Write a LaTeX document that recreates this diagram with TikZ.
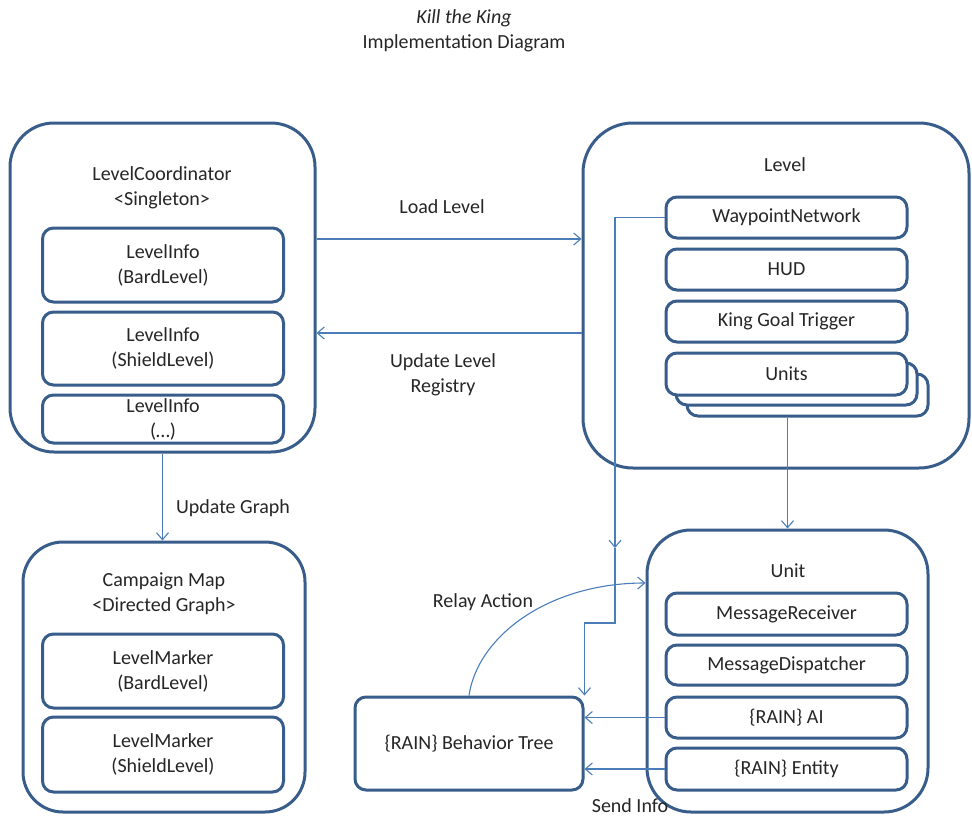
\documentclass[tikz,border=0pt]{standalone}
\usepackage{fontspec}
\setmainfont{Carlito}
\usetikzlibrary{arrows.meta}
\definecolor{boxblue}{HTML}{385D8A}
\definecolor{linkblue}{HTML}{4A7EBB}

\begin{document}
\begin{tikzpicture}[x=1pt, y=-1pt, font=\fontsize{20}{25}\selectfont,
	outer/.style={draw=boxblue, line width=3pt, fill=white, rounded corners=44pt, inner sep=0pt},
	inbox/.style={draw=boxblue, line width=3pt, fill=white, rounded corners=11pt, minimum width=241pt, minimum height=#1, inner sep=0pt, align=center, text=black!85},
	tag/.style={align=center, text=black!85, inner sep=0pt},
	link/.style={draw=linkblue, line width=1.1pt, -{Straight Barb[length=7pt,width=12pt]}}]
		\useasboundingbox (0,0) rectangle (972,817);
		
		% title
		\node [tag] (title) at (464,31) {\textit{Kill the King}\\Implementation Diagram};
		
		% level coordinator
		\node [outer, minimum width=305pt, minimum height=329pt] (lc) at (162.5,287.5) {};
		\node [tag] (lcname) at (162,188) {LevelCoordinator\\<Singleton>};
		\node [inbox=74pt] (li1) at (163,265) {LevelInfo\\(BardLevel)};
		\node [inbox=73pt] (li2) at (163,348.5) {LevelInfo\\(ShieldLevel)};
		\node [inbox=48pt] (li3) at (163,419) {LevelInfo\\(…)};
		
		% campaign map
		\node [outer, minimum width=282pt, minimum height=270pt, rounded corners=40pt] (cm) at (164,677) {};
		\node [tag] (cmname) at (164,594) {Campaign Map\\<Directed Graph>};
		\node [inbox=74pt] (lm1) at (163,671) {LevelMarker\\(BardLevel)};
		\node [inbox=75pt] (lm2) at (163,754.5) {LevelMarker\\(ShieldLevel)};
		
		% level
		\node [outer, minimum width=386pt, minimum height=345pt, rounded corners=50pt] (lv) at (776,295.5) {};
		\node [tag] (lvname) at (785,165) {Level};
		\node [inbox=41pt] (wp) at (786.5,217.5) {WaypointNetwork};
		\node [inbox=41pt] (hud) at (786.5,269.5) {HUD};
		\node [inbox=41pt] (kgt) at (786.5,321.5) {King Goal Trigger};
		\node [inbox=42pt] (units3) at (807.5,395) {};
		\node [inbox=42pt] (units2) at (796.5,384) {};
		\node [inbox=42pt] (units) at (786.5,374) {Units};
		
		% unit
		\node [outer, minimum width=281pt, minimum height=282pt] (un) at (787.5,671) {};
		\node [tag] (unname) at (788,571) {Unit};
		\node [inbox=42pt] (mr) at (786.5,614) {MessageReceiver};
		\node [inbox=40pt] (md) at (786.5,665) {MessageDispatcher};
		\node [inbox=41pt] (ai) at (786.5,717.5) {\{RAIN\} AI};
		\node [inbox=42pt] (en) at (786.5,769) {\{RAIN\} Entity};
		
		% behavior tree
		\node [inbox=93pt, minimum width=228pt] (bt) at (469,743.5) {\{RAIN\} Behavior Tree};
		
		% connectors
		\draw[link] (lc.east |- 0,239) -- (lv.west |- 0,239);
		\draw[link] (lv.west |- 0,333) -- (lc.east |- 0,333);
		\draw[link] (lc.south) -- (lc.south |- cm.north);
		\draw[link] (un.north |- units3.south) -- (un.north);
		
		\coordinate (fork) at (615,548);
		\coordinate (bend) at (615,623);
		\draw[link] (wp.west) -| (fork);
		\draw[link] (fork) -- (bend) -| (bt.north east);
		
		\draw[link] (bt.north) .. controls (478,635) and (550,583) .. (un.west |- 0,583);
		\draw[link] (ai.west) -- (ai.west -| bt.east);
		\draw[link] (en.west) -- (en.west -| bt.east);
		
		% write connector labels
		\node [tag] (loadlbl) at (442,207) {Load Level};
		\node [tag] (reglbl) at (443,375) {Update Level\\Registry};
		\node [tag] (graphlbl) at (233,508) {Update Graph};
		\node [tag] (relaylbl) at (483,602) {Relay Action};
		\node [tag] (sendlbl) at (630,806) {Send Info};
		
\end{tikzpicture}
\end{document}
